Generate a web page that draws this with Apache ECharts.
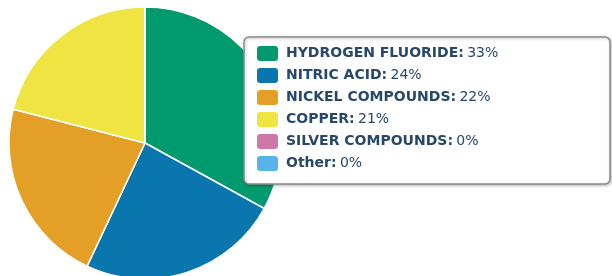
<!DOCTYPE html>
<html>
<head>
<meta charset="utf-8">
<script src="https://cdn.jsdelivr.net/npm/echarts@6/dist/echarts.min.js"></script>
<style>
  html, body { margin: 0; padding: 0; background: #fff; }
  #main { width: 612px; height: 276px; }
</style>
</head>
<body>
<div id="main"></div>
<script>
// chemicals and their share (%)
var categories = ['HYDROGEN FLUORIDE', 'NITRIC ACID', 'NICKEL COMPOUNDS', 'COPPER', 'SILVER COMPOUNDS', 'Other'];
var shares = [33, 24, 22, 21, 0, 0];
var colors = ['#009a6e', '#0a76ae', '#e39f26', '#f0e442', '#cc79a7', '#56b4e9'];

var chart = echarts.init(document.getElementById('main'), null, { renderer: 'canvas' });

var pieData = categories.map(function (name, i) {
  return { name: name, value: shares[i], itemStyle: { color: colors[i] } };
});

var option = {
  backgroundColor: '#ffffff',
  animation: false,
  // legend box behind the legend items
  graphic: [{
    type: 'rect',
    z: 10,
    shape: { x: 244, y: 37, width: 366, height: 147, r: 5 },
    style: {
      fill: '#ffffff',
      stroke: '#8a8a8a',
      lineWidth: 1.5,
      shadowBlur: 3,
      shadowOffsetX: 1,
      shadowOffsetY: 1,
      shadowColor: 'rgba(0,0,0,0.25)'
    }
  }],
  legend: {
    orient: 'vertical',
    left: 255,
    top: 44,
    padding: 0,
    z: 20,
    itemWidth: 23,
    itemHeight: 17,
    itemGap: 3,
    icon: 'roundRect',
    selectedMode: false,
    data: categories,
    formatter: function (name) {
      var i = categories.indexOf(name);
      return '{b|' + name + ':} {v|' + shares[i] + '%}';
    },
    textStyle: {
      lineHeight: 17,
      rich: {
        b: { fontFamily: 'DejaVu Sans', fontWeight: 'bold', fontSize: 14, color: '#27486b', lineHeight: 17, padding: [0, 0, 0, 2] },
        v: { fontFamily: 'DejaVu Sans', fontSize: 14, color: '#27486b', lineHeight: 17 }
      }
    }
  },
  series: [{
    type: 'pie',
    center: [145, 143],
    radius: 136,
    startAngle: 90,
    clockwise: true,
    label: { show: false },
    labelLine: { show: false },
    emphasis: { disabled: true },
    itemStyle: { borderColor: '#ffffff', borderWidth: 1.5 },
    data: pieData
  }]
};

chart.setOption(option);
</script>
</body>
</html>
